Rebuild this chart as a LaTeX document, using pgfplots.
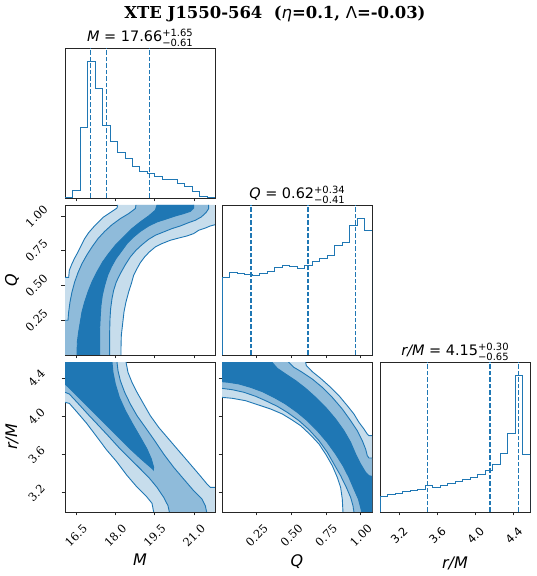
\documentclass[border=0pt]{standalone}
\usepackage{fontspec}
\setmainfont{DejaVu Sans}
\newfontfamily\serifnum{DejaVu Serif}
\newfontfamily\sansnum{DejaVu Sans}
\usepackage{pgfplots}
\pgfplotsset{compat=1.18}

\definecolor{c0}{RGB}{31,119,180}
\definecolor{c0m}{RGB}{143,187,218}
\definecolor{c0l}{RGB}{199,221,236}
\definecolor{spine}{RGB}{38,38,38}

% stacked upper/lower errors after a central value
\newcommand{\pmval}[2]{\makebox[0pt][l]{\raisebox{5.6bp}{\fontsize{10}{10}\selectfont#1}}\raisebox{-4.4bp}{\fontsize{10}{10}\selectfont#2}}

\pgfplotsset{
  corner/.style={
    scale only axis, width=150bp, height=150bp, anchor=south west,
    axis line style={spine, line width=0.8bp},
    every tick/.style={spine, line width=0.8bp},
    tick align=outside, major tick length=3.5bp,
    xtick pos=bottom, ytick pos=left,
    xticklabel style={font=\fontsize{11.5}{11.5}\serifnum, yshift=-20bp, rotate=45, anchor=center},
    yticklabel style={font=\fontsize{11.5}{11.5}\serifnum, xshift=-25bp, rotate=45, anchor=center},
  },
  hist/.style={corner, ytick=\empty, ymin=0},
  histline/.style={c0, solid, line width=1bp, mark=none},
  qline/.style={c0, line width=1.4bp, dash pattern=on 4.5bp off 2bp},
  cline/.style={c0, solid, line width=0.9bp, mark=none},
  Mx/.style={xmin=16.08, xmax=21.8, xtick={16.5,18,19.5,21}},
  Qx/.style={xmin=0, xmax=1.08, xtick={0.25,0.5,0.75,1.0}},
  Rx/.style={xmin=3.0, xmax=4.57, xtick={3.2,3.6,4.0,4.4}},
  Qy/.style={ymin=0, ymax=1.08, ytick={0.25,0.5,0.75,1.0}},
  Ry/.style={ymin=3.0, ymax=4.57, ytick={3.2,3.6,4.0,4.4}},
}

\begin{document}
\begin{tikzpicture}
\useasboundingbox (0,0) rectangle (537bp,576bp);

% ---------- 1D marginal: M ----------
\begin{axis}[hist, Mx, at={(65bp,378bp)}, ymax=448.8, xticklabels={}]
\addplot[histline, const plot mark left] coordinates {
 (16.08,0) (16.08,0) (16.366,23) (16.652,212) (16.938,408) (17.224,328)
 (17.51,217) (17.796,170) (18.082,135) (18.368,118) (18.654,95)
 (18.94,80) (19.226,73) (19.512,65) (19.798,56) (20.084,54)
 (20.37,42) (20.656,35) (20.942,20) (21.228,5) (21.514,0) (21.8,0)};
\addplot[qline] coordinates {(17.05,0) (17.05,448.8)};
\addplot[qline] coordinates {(17.66,0) (17.66,448.8)};
\addplot[qline] coordinates {(19.31,0) (19.31,448.8)};
\end{axis}

% ---------- 1D marginal: Q ----------
\begin{axis}[hist, Qx, at={(222bp,221bp)}, ymax=451, xticklabels={}]
\addplot[histline, const plot mark left] coordinates {
 (0,0) (0,232) (0.054,248) (0.108,244) (0.162,242) (0.216,240)
 (0.27,244) (0.324,250) (0.378,263) (0.432,269) (0.486,265)
 (0.54,259) (0.594,269) (0.648,280) (0.702,289) (0.756,300)
 (0.81,328) (0.864,338) (0.918,389) (0.972,410) (1.026,375) (1.08,375) (1.08,0)};
\addplot[qline] coordinates {(0.21,0) (0.21,451)};
\addplot[qline] coordinates {(0.62,0) (0.62,451)};
\addplot[qline] coordinates {(0.96,0) (0.96,451)};
\end{axis}

% ---------- 1D marginal: r/M ----------
\begin{axis}[hist, Rx, at={(380bp,64bp)}, ymax=449,
  xticklabels={3.2,3.6,4.0,4.4},
  xticklabel style={font=\fontsize{11.5}{11.5}\sansnum}]
\addplot[histline, const plot mark left] coordinates {
 (3.0,0) (3.0,46) (3.0785,51) (3.157,56) (3.2355,60) (3.314,64)
 (3.3925,68) (3.471,78) (3.5495,74) (3.628,80) (3.7065,85)
 (3.785,92) (3.8635,96) (3.942,104) (4.0205,112) (4.099,123)
 (4.1775,143) (4.256,176) (4.3345,236) (4.413,408) (4.4915,172) (4.57,172) (4.57,0)};
\addplot[qline] coordinates {(3.50,0) (3.50,449)};
\addplot[qline] coordinates {(4.15,0) (4.15,449)};
\addplot[qline] coordinates {(4.45,0) (4.45,449)};
\end{axis}

% ---------- 2D: Q vs M ----------
\begin{axis}[corner, Mx, Qy, at={(65bp,221bp)}, xticklabels={},
  yticklabels={0.25,0.50,0.75,1.00}]
\addplot[fill=c0l, draw=none] coordinates {
 (16.08,0) (16.08,0.559) (16.22,0.559) (16.245,0.610) (16.347,0.658) (16.449,0.698)
 (16.576,0.742) (16.703,0.790) (16.83,0.838) (16.982,0.881) (17.173,0.922) (17.364,0.958)
 (17.554,0.994) (17.745,1.018) (17.936,1.042) (18.063,1.058) (18.088,1.08) (21.8,1.08)
 (21.8,0.938) (21.622,0.929) (21.431,0.914) (21.177,0.898) (20.986,0.874) (20.732,0.857)
 (20.414,0.842) (20.097,0.826) (19.779,0.802) (19.525,0.778) (19.296,0.742) (19.118,0.706)
 (18.953,0.665) (18.826,0.622) (18.698,0.574) (18.61,0.514) (18.508,0.454) (18.406,0.382)
 (18.33,0.310) (18.279,0.226) (18.228,0.142) (18.215,0.046) (18.215,0)};
\addplot[fill=c0m, draw=none] coordinates {
 (16.08,0) (16.08,0.250) (16.194,0.250) (16.22,0.310) (16.271,0.382) (16.347,0.454)
 (16.449,0.526) (16.576,0.593) (16.728,0.658) (16.919,0.722) (17.11,0.778) (17.338,0.838)
 (17.593,0.890) (17.872,0.938) (18.19,0.982) (18.508,1.018) (18.762,1.054) (18.787,1.08)
 (21.558,1.08) (21.558,1.054) (21.457,1.025) (21.279,0.994) (21.05,0.970) (20.796,0.953)
 (20.478,0.929) (20.16,0.910) (19.842,0.886) (19.525,0.862) (19.27,0.833) (19.016,0.794)
 (18.787,0.754) (18.571,0.706) (18.381,0.650) (18.19,0.586) (18.037,0.526) (17.936,0.466)
 (17.872,0.406) (17.821,0.334) (17.796,0.262) (17.783,0.166) (17.783,0)};
\addplot[fill=c0, draw=none] coordinates {
 (16.538,0) (16.55,0.094) (16.601,0.166) (16.665,0.238) (16.728,0.310) (16.83,0.382)
 (16.957,0.454) (17.11,0.526) (17.30,0.598) (17.516,0.670) (17.745,0.730) (17.999,0.790)
 (18.317,0.850) (18.635,0.910) (18.953,0.958) (19.27,1.001) (19.525,1.042) (19.588,1.08)
 (20.986,1.08) (20.986,1.058) (20.859,1.034) (20.605,1.018) (20.287,1.001) (19.906,0.977)
 (19.588,0.958) (19.27,0.929) (18.953,0.890) (18.698,0.850) (18.444,0.802) (18.228,0.746)
 (18.025,0.694) (17.847,0.634) (17.707,0.574) (17.593,0.502) (17.504,0.430) (17.453,0.358)
 (17.427,0.286) (17.402,0.190) (17.402,0)};
% contour lines
\addplot[cline] coordinates {
 (16.08,0.559) (16.22,0.559) (16.245,0.610) (16.347,0.658) (16.449,0.698)
 (16.576,0.742) (16.703,0.790) (16.83,0.838) (16.982,0.881) (17.173,0.922) (17.364,0.958)
 (17.554,0.994) (17.745,1.018) (17.936,1.042) (18.063,1.058) (18.088,1.08)};
\addplot[cline] coordinates {
 (21.8,0.938) (21.622,0.929) (21.431,0.914) (21.177,0.898) (20.986,0.874) (20.732,0.857)
 (20.414,0.842) (20.097,0.826) (19.779,0.802) (19.525,0.778) (19.296,0.742) (19.118,0.706)
 (18.953,0.665) (18.826,0.622) (18.698,0.574) (18.61,0.514) (18.508,0.454) (18.406,0.382)
 (18.33,0.310) (18.279,0.226) (18.228,0.142) (18.215,0.046) (18.215,0)};
\addplot[cline] coordinates {
 (16.08,0.250) (16.194,0.250) (16.22,0.310) (16.271,0.382) (16.347,0.454)
 (16.449,0.526) (16.576,0.593) (16.728,0.658) (16.919,0.722) (17.11,0.778) (17.338,0.838)
 (17.593,0.890) (17.872,0.938) (18.19,0.982) (18.508,1.018) (18.762,1.054) (18.787,1.08)};
\addplot[cline] coordinates {
 (21.558,1.08) (21.558,1.054) (21.457,1.025) (21.279,0.994) (21.05,0.970) (20.796,0.953)
 (20.478,0.929) (20.16,0.910) (19.842,0.886) (19.525,0.862) (19.27,0.833) (19.016,0.794)
 (18.787,0.754) (18.571,0.706) (18.381,0.650) (18.19,0.586) (18.037,0.526) (17.936,0.466)
 (17.872,0.406) (17.821,0.334) (17.796,0.262) (17.783,0.166) (17.783,0)};
\addplot[cline] coordinates {
 (16.538,0) (16.55,0.094) (16.601,0.166) (16.665,0.238) (16.728,0.310) (16.83,0.382)
 (16.957,0.454) (17.11,0.526) (17.30,0.598) (17.516,0.670) (17.745,0.730) (17.999,0.790)
 (18.317,0.850) (18.635,0.910) (18.953,0.958) (19.27,1.001) (19.525,1.042) (19.588,1.08)};
\addplot[cline] coordinates {
 (20.986,1.08) (20.986,1.058) (20.859,1.034) (20.605,1.018) (20.287,1.001) (19.906,0.977)
 (19.588,0.958) (19.27,0.929) (18.953,0.890) (18.698,0.850) (18.444,0.802) (18.228,0.746)
 (18.025,0.694) (17.847,0.634) (17.707,0.574) (17.593,0.502) (17.504,0.430) (17.453,0.358)
 (17.427,0.286) (17.402,0.190) (17.402,0)};
\end{axis}

% ---------- 2D: r/M vs M ----------
\begin{axis}[corner, Mx, Ry, at={(65bp,64bp)},
  xticklabels={16.5,18.0,19.5,21.0}, yticklabels={3.2,3.6,4.0,4.4}]
\addplot[fill=c0l, draw=none] coordinates {
 (16.08,4.57) (18.406,4.57) (18.482,4.462) (18.635,4.357) (18.826,4.253) (19.08,4.130)
 (19.334,4.008) (19.652,3.886) (20.033,3.764) (20.414,3.642) (20.796,3.520) (21.177,3.398)
 (21.495,3.293) (21.622,3.258) (21.8,3.258) (21.8,3.0) (19.461,3.0) (19.398,3.091)
 (19.194,3.160) (18.813,3.265) (18.432,3.387) (18.05,3.527) (17.669,3.649) (17.288,3.789)
 (16.906,3.928) (16.525,4.050) (16.245,4.137) (16.08,4.148)};
\addplot[fill=c0m, draw=none] coordinates {
 (16.08,4.57) (18.063,4.57) (18.101,4.479) (18.19,4.375) (18.355,4.253) (18.571,4.130)
 (18.826,4.008) (19.143,3.886) (19.499,3.747) (19.842,3.607) (20.224,3.468) (20.605,3.345)
 (20.986,3.223) (21.304,3.136) (21.431,3.066) (21.482,3.0) (20.059,3.0) (20.008,3.066)
 (19.842,3.154) (19.588,3.258) (19.27,3.363) (18.889,3.468) (18.508,3.572) (18.126,3.677)
 (17.745,3.792) (17.364,3.904) (16.982,4.015) (16.601,4.130) (16.245,4.235) (16.08,4.253)};
\addplot[fill=c0, draw=none] coordinates {
 (16.08,4.57) (17.872,4.57) (17.91,4.462) (17.999,4.340) (18.152,4.200) (18.381,4.061)
 (18.66,3.921) (18.953,3.782) (19.207,3.659) (19.372,3.555) (19.461,3.468) (19.448,3.440)
 (19.423,3.450) (19.245,3.492) (18.953,3.562) (18.571,3.659) (18.19,3.764) (17.809,3.869)
 (17.427,3.973) (17.046,4.078) (16.665,4.183) (16.283,4.287) (16.08,4.340)};
% contour lines
\addplot[cline] coordinates {
 (18.406,4.57) (18.482,4.462) (18.635,4.357) (18.826,4.253) (19.08,4.130)
 (19.334,4.008) (19.652,3.886) (20.033,3.764) (20.414,3.642) (20.796,3.520) (21.177,3.398)
 (21.495,3.293) (21.622,3.258) (21.8,3.258)};
\addplot[cline] coordinates {
 (19.461,3.0) (19.398,3.091)
 (19.194,3.160) (18.813,3.265) (18.432,3.387) (18.05,3.527) (17.669,3.649) (17.288,3.789)
 (16.906,3.928) (16.525,4.050) (16.245,4.137) (16.08,4.148)};
\addplot[cline] coordinates {
 (18.063,4.57) (18.101,4.479) (18.19,4.375) (18.355,4.253) (18.571,4.130)
 (18.826,4.008) (19.143,3.886) (19.499,3.747) (19.842,3.607) (20.224,3.468) (20.605,3.345)
 (20.986,3.223) (21.304,3.136) (21.431,3.066) (21.482,3.0)};
\addplot[cline] coordinates {
 (20.059,3.0) (20.008,3.066)
 (19.842,3.154) (19.588,3.258) (19.27,3.363) (18.889,3.468) (18.508,3.572) (18.126,3.677)
 (17.745,3.792) (17.364,3.904) (16.982,4.015) (16.601,4.130) (16.245,4.235) (16.08,4.253)};
\addplot[cline] coordinates {
 (17.872,4.57) (17.91,4.462) (17.999,4.340) (18.152,4.200) (18.381,4.061)
 (18.66,3.921) (18.953,3.782) (19.207,3.659) (19.372,3.555) (19.461,3.468) (19.448,3.440)
 (19.423,3.450) (19.245,3.492) (18.953,3.562) (18.571,3.659) (18.19,3.764) (17.809,3.869)
 (17.427,3.973) (17.046,4.078) (16.665,4.183) (16.283,4.287) (16.08,4.340)};
\end{axis}

% ---------- 2D: r/M vs Q ----------
\begin{axis}[corner, Qx, Ry, at={(222bp,64bp)},
  xticklabels={0.25,0.50,0.75,1.00}, yticklabels={}]
\addplot[fill=c0l, draw=none] coordinates {
 (0,4.57) (0.602,4.57) (0.607,4.532) (0.650,4.469) (0.710,4.399) (0.782,4.305) (0.842,4.218)
 (0.902,4.113) (0.950,4.026) (0.986,3.939) (1.022,3.869) (1.046,3.816) (1.058,3.799)
 (1.08,3.799) (1.08,3.0) (0.871,3.0) (0.866,3.136) (0.854,3.258) (0.830,3.363) (0.794,3.485)
 (0.746,3.607) (0.698,3.712) (0.638,3.806) (0.566,3.904) (0.494,3.973) (0.434,4.026)
 (0.350,4.078) (0.278,4.113) (0.242,4.130) (0.170,4.165) (0.074,4.190) (0,4.200)};
\addplot[fill=c0m, draw=none] coordinates {
 (0,4.57) (0.478,4.57) (0.518,4.514) (0.578,4.462) (0.650,4.392) (0.722,4.305) (0.794,4.200)
 (0.866,4.078) (0.926,3.956) (0.974,3.851) (1.010,3.747) (1.034,3.659) (1.046,3.590)
 (1.058,3.565) (1.08,3.565) (1.08,3.0) (0.950,3.0) (0.943,3.066) (0.926,3.154) (0.895,3.258)
 (0.854,3.380) (0.806,3.502) (0.758,3.625) (0.698,3.747) (0.626,3.862) (0.554,3.956)
 (0.470,4.043) (0.398,4.106) (0.314,4.165) (0.242,4.211) (0.158,4.253) (0.074,4.280) (0,4.294)};
\addplot[fill=c0, draw=none] coordinates {
 (0,4.57) (0.358,4.57) (0.398,4.504) (0.458,4.444) (0.530,4.375) (0.602,4.294) (0.674,4.200)
 (0.746,4.096) (0.818,3.973) (0.878,3.851) (0.926,3.729) (0.962,3.607) (0.998,3.502)
 (1.034,3.415) (1.058,3.380) (1.08,3.373) (1.08,3.0) (1.006,3.0) (0.998,3.049) (0.982,3.136)
 (0.950,3.241) (0.914,3.363) (0.871,3.485) (0.818,3.607) (0.758,3.729) (0.686,3.851)
 (0.614,3.956) (0.542,4.043) (0.458,4.130) (0.374,4.200) (0.290,4.260) (0.206,4.305)
 (0.122,4.340) (0.050,4.357) (0,4.364)};
% contour lines
\addplot[cline] coordinates {
 (0.602,4.57) (0.607,4.532) (0.650,4.469) (0.710,4.399) (0.782,4.305) (0.842,4.218)
 (0.902,4.113) (0.950,4.026) (0.986,3.939) (1.022,3.869) (1.046,3.816) (1.058,3.799) (1.08,3.799)};
\addplot[cline] coordinates {
 (0.871,3.0) (0.866,3.136) (0.854,3.258) (0.830,3.363) (0.794,3.485)
 (0.746,3.607) (0.698,3.712) (0.638,3.806) (0.566,3.904) (0.494,3.973) (0.434,4.026)
 (0.350,4.078) (0.278,4.113) (0.242,4.130) (0.170,4.165) (0.074,4.190) (0,4.200)};
\addplot[cline] coordinates {
 (0.478,4.57) (0.518,4.514) (0.578,4.462) (0.650,4.392) (0.722,4.305) (0.794,4.200)
 (0.866,4.078) (0.926,3.956) (0.974,3.851) (1.010,3.747) (1.034,3.659) (1.046,3.590)
 (1.058,3.565) (1.08,3.565)};
\addplot[cline] coordinates {
 (0.950,3.0) (0.943,3.066) (0.926,3.154) (0.895,3.258)
 (0.854,3.380) (0.806,3.502) (0.758,3.625) (0.698,3.747) (0.626,3.862) (0.554,3.956)
 (0.470,4.043) (0.398,4.106) (0.314,4.165) (0.242,4.211) (0.158,4.253) (0.074,4.280) (0,4.294)};
\addplot[cline] coordinates {
 (0.358,4.57) (0.398,4.504) (0.458,4.444) (0.530,4.375) (0.602,4.294) (0.674,4.200)
 (0.746,4.096) (0.818,3.973) (0.878,3.851) (0.926,3.729) (0.962,3.607) (0.998,3.502)
 (1.034,3.415) (1.058,3.380) (1.08,3.373)};
\addplot[cline] coordinates {
 (1.006,3.0) (0.998,3.049) (0.982,3.136)
 (0.950,3.241) (0.914,3.363) (0.871,3.485) (0.818,3.607) (0.758,3.729) (0.686,3.851)
 (0.614,3.956) (0.542,4.043) (0.458,4.130) (0.374,4.200) (0.290,4.260) (0.206,4.305)
 (0.122,4.340) (0.050,4.357) (0,4.364)};
\end{axis}

% ---------- titles and labels ----------
\node[anchor=base] at (275bp,557bp) {\fontsize{16.5}{16.5}\serifnum\bfseries XTE J1550-564\ \ ({\mdseries\sansnum\itshape η}=0.1, {\mdseries\sansnum Λ}=-0.03)};
\node[anchor=base] at (140bp,534bp) {\fontsize{14.5}{14.5}\selectfont\textit{M} = 17.66\pmval{+1.65}{−0.61}};
\node[anchor=base] at (297bp,377bp) {\fontsize{14.5}{14.5}\selectfont\textit{Q} = 0.62\pmval{+0.34}{−0.41}};
\node[anchor=base] at (455bp,220bp) {\fontsize{14.5}{14.5}\selectfont\textit{r/M} = 4.15\pmval{+0.30}{−0.65}};
\node[rotate=90] at (12bp,296bp) {\fontsize{16}{16}\selectfont\textit{Q}};
\node[rotate=90] at (12bp,139bp) {\fontsize{16}{16}\selectfont\textit{r/M}};
\node at (140bp,16bp) {\fontsize{16}{16}\selectfont\textit{M}};
\node at (297bp,14bp) {\fontsize{16}{16}\selectfont\textit{Q}};
\node at (455bp,13bp) {\fontsize{16}{16}\selectfont\textit{r/M}};
\end{tikzpicture}
\end{document}
